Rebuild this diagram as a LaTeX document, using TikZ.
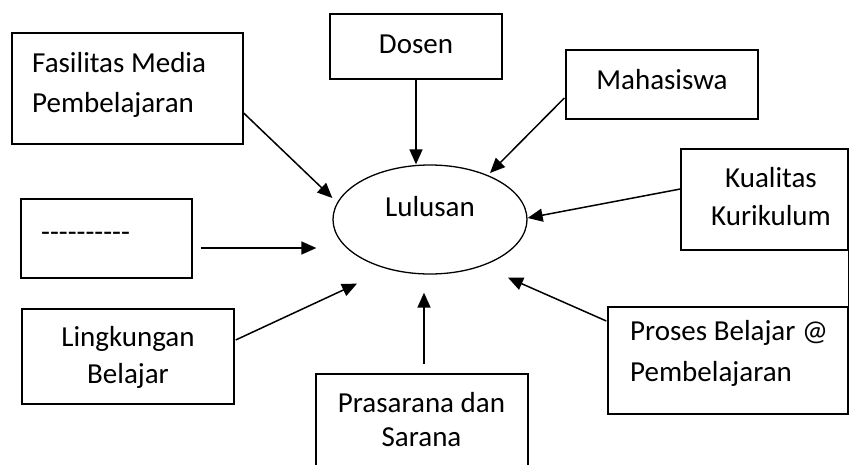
\documentclass[tikz,border=0pt]{standalone}
\usepackage{fontspec}
\setmainfont{Carlito}
\usetikzlibrary{arrows.meta,shapes.geometric}

\begin{document}
\begin{tikzpicture}[x=1pt,y=-1pt]
    \tikzstyle{B}=[rectangle,draw,line width=1.3pt,inner sep=0pt]
    \tikzstyle{T}=[font=\fontsize{29}{40}\selectfont,inner sep=0pt]
    \tikzstyle{A}=[line width=1.5pt,-{Triangle[length=15pt,width=13pt]}]

    \useasboundingbox (0,0) rectangle (849,464);

    % Boxes
    \node [B,minimum width=231pt,minimum height=111pt] (fas) at (127.5,88.5) {};
    \node [B,minimum width=172pt,minimum height=65pt]  (dos) at (416,46.5) {};
    \node [B,minimum width=192pt,minimum height=69pt]  (mah) at (662,84.5) {};
    \node [B,minimum width=167pt,minimum height=101pt] (kur) at (764.5,199.5) {};
    \node [B,minimum width=171pt,minimum height=79pt]  (dsh) at (106.5,238.5) {};
    \node [B,minimum width=212pt,minimum height=95pt]  (lin) at (128,356.5) {};
    \node [B,minimum width=212pt,minimum height=92pt]  (pra) at (422,420) {};
    \node [B,minimum width=240pt,minimum height=107pt] (pro) at (728,360.5) {};

    % Lulusan
    \node [ellipse,draw,line width=1.3pt,inner sep=0pt,
        minimum width=194pt,minimum height=109pt] (lul) at (430,219.5) {};

    % Texts (base = last line)
    \node [T,anchor=base] at (430,216) {Lulusan};
    \node [T,anchor=base west,align=left] at (32,112) {Fasilitas Media\\Pembelajaran};
    \node [T,anchor=base] at (416,53) {Dosen};
    \node [T,anchor=base] at (662,89) {Mahasiswa};
    \node [T,anchor=base,align=center] at (771,225) {Kualitas\\[-2pt]Kurikulum};
    \node [T,anchor=base west] at (41,241) {-{}-{}-{}-{}-{}-{}-{}-{}-{}-};
    \node [T,anchor=base,align=center] at (128,383) {Lingkungan\\[-3pt]Belajar};
    \node [T,anchor=base,align=center] at (421.5,446) {Prasarana dan\\[-6pt]Sarana};
    \node [T,anchor=base west,align=left] at (630,381) {Proses Belajar @\\[1pt]Pembelajaran};

    % Arrows
    \draw [A] ([yshift=-24.5pt]fas.east) -- ([yshift=21.5pt]lul.west);
    \draw [A] (dos.south) -- (dos.south |- lul.north);
    \draw [A] ([xshift=-1pt,yshift=-13.5pt]mah.west) -- ([xshift=60pt,yshift=46.5pt]lul.center);
    \draw [A] ([yshift=10.5pt]kur.west) -- ([yshift=1.5pt]lul.east);
    \draw [A] ([xshift=8pt,yshift=-9.5pt]dsh.east) -- ([xshift=-16pt,yshift=-28.5pt]lul.west);
    \draw [A] ([xshift=1pt,yshift=16.5pt]lin.east) -- ([xshift=-73pt,yshift=-9pt]lul.south);
    \draw [A] ([xshift=2pt,yshift=9pt]pra.north) -- ([xshift=-6pt,yshift=-18pt]lul.south);
    \draw [A] ([xshift=-1pt,yshift=39.5pt]pro.west) -- ([xshift=78pt,yshift=-3pt]lul.south);

    % right edge
    \draw [line width=1.3pt] (kur.south east) -- (pro.north east);
\end{tikzpicture}
\end{document}
